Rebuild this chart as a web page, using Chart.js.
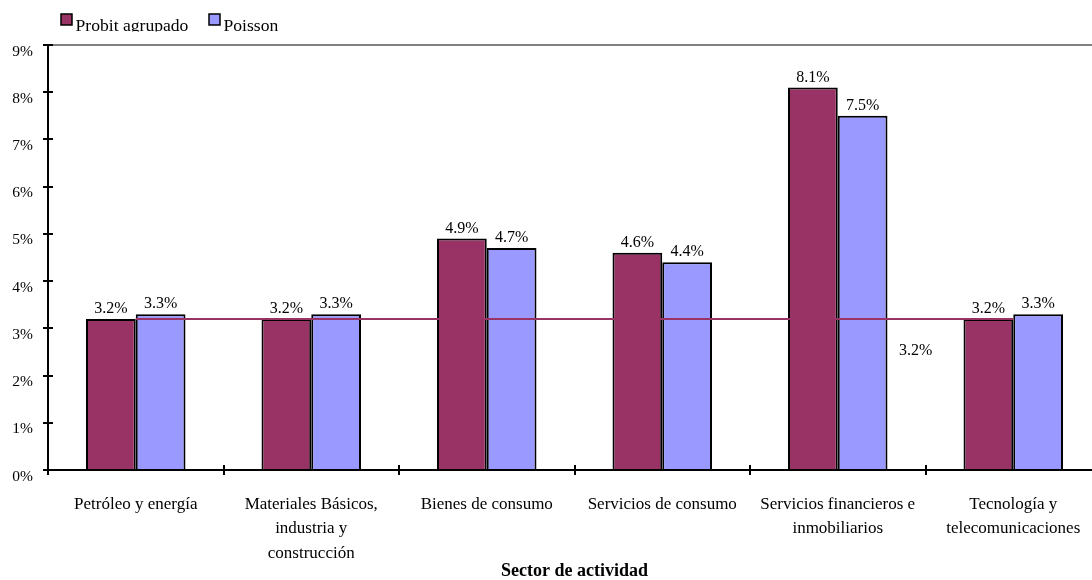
<!DOCTYPE html>
<html>
<head>
<meta charset="utf-8">
<script src="https://cdn.jsdelivr.net/npm/chart.js@4"></script>
<style>
  html, body { margin: 0; padding: 0; background: #fff; overflow: hidden; }
  /* the plot runs slightly past the right edge of the page */
  #wrap { width: 1101px; height: 580px; position: relative; }
</style>
</head>
<body>
<div id="wrap"><canvas id="chart"></canvas></div>
<script>
// Sectors (multi-line category labels)
const sectors = [
  ['Petróleo y energía'],
  ['Materiales Básicos,', 'industria y', 'construcción'],
  ['Bienes de consumo'],
  ['Servicios de consumo'],
  ['Servicios financieros e', 'inmobiliarios'],
  ['Tecnología y', 'telecomunicaciones']
];
// Default rates by sector, in percent
const probitAgrupado = [3.2, 3.2, 4.9, 4.6, 8.1, 3.2];
const poisson = [3.3, 3.3, 4.7, 4.4, 7.5, 3.3];
// Overall reference rate, drawn as a flat line across sectors
const tasaGlobal = [3.2, 3.2, 3.2, 3.2, 3.2, 3.2];
const tasaGlobalLabelIndex = 4;
const yTicks = [0, 1, 2, 3, 4, 5, 6, 7, 8, 9];

const serif = '"Liberation Serif", "Times New Roman", serif';
const RED = '#993366';
const BLUE = '#9999FF';

const fmt = v => v.toFixed(1) + '%';

// Value labels above bars and the single label on the reference line
const valueLabels = {
  id: 'valueLabels',
  afterDatasetsDraw(chart) {
    const ctx = chart.ctx;
    ctx.save();
    ctx.fillStyle = '#000';
    ctx.font = '16px ' + serif;
    chart.data.datasets.forEach((ds, di) => {
      const meta = chart.getDatasetMeta(di);
      if (ds.type === 'line') {
        const p = meta.data[tasaGlobalLabelIndex];
        ctx.textAlign = 'center';
        ctx.textBaseline = 'middle';
        ctx.fillText(fmt(ds.data[tasaGlobalLabelIndex]), p.x + 78, p.y + 32);
        return;
      }
      ctx.textAlign = 'center';
      ctx.textBaseline = 'alphabetic';
      meta.data.forEach((bar, i) => {
        ctx.fillText(fmt(ds.data[i]), bar.x, bar.y - 6);
      });
    });
    ctx.restore();
  }
};

// Frame details: grey top border, ticks crossing the axes, legend
const frame = {
  id: 'frame',
  beforeDatasetsDraw(chart) {
    const { ctx, chartArea: a } = chart;
    ctx.save();
    ctx.strokeStyle = '#808080';
    ctx.lineWidth = 2;
    ctx.beginPath();
    ctx.moveTo(a.left, a.top);
    ctx.lineTo(a.right, a.top);
    ctx.stroke();
    ctx.restore();
  },
  afterDraw(chart) {
    const { ctx, chartArea: a, scales } = chart;
    ctx.save();
    ctx.strokeStyle = '#000';
    ctx.lineWidth = 2;
    ctx.beginPath();
    scales.y.ticks.forEach(t => {
      const y = Math.round(scales.y.getPixelForValue(t.value));
      ctx.moveTo(a.left, y);
      ctx.lineTo(a.left + 5, y);
    });
    const n = scales.x.ticks.length;
    for (let i = 1; i < n; i++) {
      const x = Math.round((scales.x.getPixelForTick(i - 1) + scales.x.getPixelForTick(i)) / 2);
      ctx.moveTo(x, a.bottom);
      ctx.lineTo(x, a.bottom - 5);
    }
    ctx.stroke();

    // Legend, clipped along its lower edge
    ctx.beginPath();
    ctx.rect(0, 0, chart.width, 31.5);
    ctx.clip();
    const items = [
      { label: chart.data.datasets[0].label, color: RED, x: 61 },
      { label: chart.data.datasets[1].label, color: BLUE, x: 209 }
    ];
    ctx.font = '17.6px ' + serif;
    ctx.textAlign = 'left';
    ctx.textBaseline = 'alphabetic';
    items.forEach(it => {
      ctx.fillStyle = it.color;
      ctx.fillRect(it.x, 14, 11, 11);
      ctx.lineWidth = 1.5;
      ctx.strokeStyle = '#000';
      ctx.strokeRect(it.x, 14, 11, 11);
      ctx.fillStyle = '#000';
      ctx.fillText(it.label, it.x + 14.5, 31);
    });
    ctx.restore();
  }
};

new Chart(document.getElementById('chart'), {
  type: 'bar',
  data: {
    labels: sectors,
    datasets: [
      {
        label: 'Probit agrupado',
        data: probitAgrupado,
        backgroundColor: RED,
        borderColor: '#000',
        borderWidth: 2,
        barPercentage: 1.0,
        categoryPercentage: 0.567,
        order: 1
      },
      {
        label: 'Poisson',
        data: poisson,
        backgroundColor: BLUE,
        borderColor: '#000',
        borderWidth: 2,
        barPercentage: 1.0,
        categoryPercentage: 0.567,
        order: 1
      },
      {
        type: 'line',
        label: 'Tasa global',
        data: tasaGlobal,
        borderColor: RED,
        borderWidth: 2,
        pointRadius: 0,
        fill: false,
        order: 0
      }
    ]
  },
  options: {
    responsive: true,
    maintainAspectRatio: false,
    animation: false,
    layout: { padding: { top: 45, right: 0, left: 0, bottom: 0 } },
    plugins: {
      legend: { display: false },
      tooltip: { enabled: false }
    },
    scales: {
      x: {
        offset: true,
        grid: {
          offset: true,
          drawOnChartArea: false,
          drawTicks: true,
          tickLength: 5,
          color: '#000',
          lineWidth: 2
        },
        border: { color: '#000', width: 2 },
        ticks: {
          color: '#000',
          font: { family: serif, size: 17, lineHeight: 1.44 },
          padding: 17,
          maxRotation: 0,
          autoSkip: false
        },
        title: {
          display: true,
          text: 'Sector de actividad',
          color: '#000',
          font: { family: serif, size: 18, weight: 'bold', lineHeight: 1 },
          padding: { top: 0, bottom: 0 }
        },
        afterFit(scale) { scale.height = 110; }
      },
      y: {
        min: 0,
        max: 9,
        afterBuildTicks(scale) { scale.ticks = yTicks.map(v => ({ value: v })); },
        grid: {
          drawOnChartArea: false,
          drawTicks: true,
          tickLength: 5,
          color: '#000',
          lineWidth: 2
        },
        border: { color: '#000', width: 2 },
        ticks: {
          color: '#000',
          font: { family: serif, size: 15.5 },
          padding: 10,
          labelOffset: 6.5,
          callback: v => v + '%'
        },
        afterFit(scale) { scale.width = 48; }
      }
    }
  },
  plugins: [valueLabels, frame]
});
</script>
</body>
</html>
